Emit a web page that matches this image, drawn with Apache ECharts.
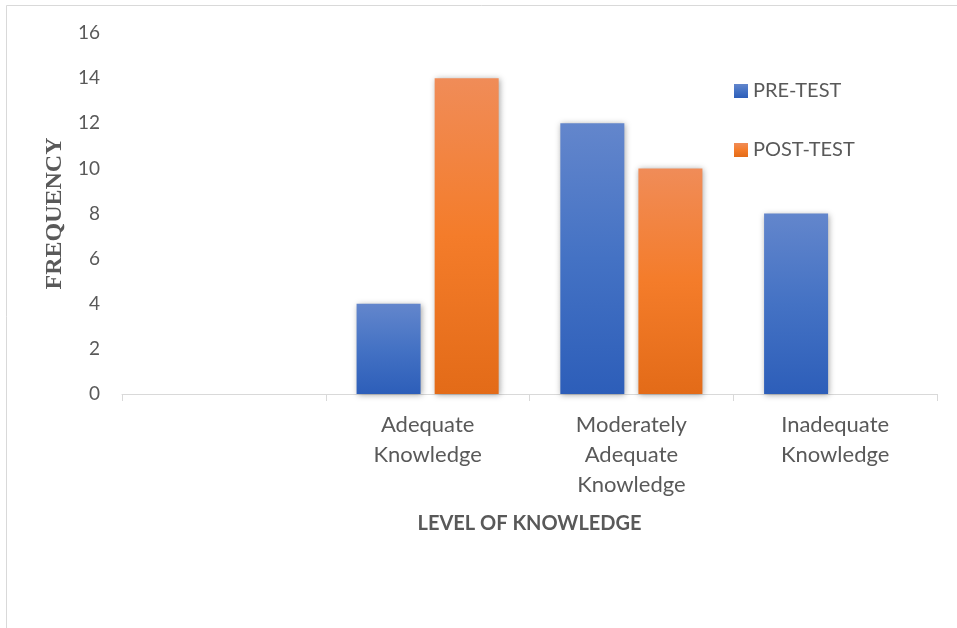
<!DOCTYPE html>
<html>
<head>
<meta charset="utf-8">
<script src="https://cdn.jsdelivr.net/npm/echarts@6/dist/echarts.min.js"></script>
<style>
html,body{margin:0;padding:0;background:#fff;}
#chart{width:957px;height:628px;}
</style>
</head>
<body>
<div id="chart"></div>
<script>
const categories = ["", "Adequate\nKnowledge", "Moderately\nAdequate\nKnowledge", "Inadequate\nKnowledge"];
const preTest = [null, 4, 12, 8];
const postTest = [null, 14, 10, null];
const seriesNames = ["PRE-TEST", "POST-TEST"];

const chart = echarts.init(document.getElementById('chart'), null, {renderer: 'canvas'});

function grad(top, mid, bottom) {
  return new echarts.graphic.LinearGradient(0, 0, 0, 1, [
    {offset: 0, color: top},
    {offset: 0.5, color: mid},
    {offset: 1, color: bottom}
  ]);
}
const blue = grad('#6386cc', '#4472c4', '#2d5eb9');
const orange = grad('#f08c58', '#f47c2a', '#e36b18');

const font = 'Lato, "Open Sans", sans-serif';

chart.setOption({
  animation: false,
  backgroundColor: '#ffffff',
  graphic: [{
    type: 'polyline',
    shape: {points: [[6.5, 628], [6.5, 5.5], [957, 5.5]]},
    style: {stroke: '#d9d9d9', lineWidth: 1, fill: null},
    silent: true
  }],
  legend: {
    orient: 'vertical',
    left: 729,
    top: 76,
    itemWidth: 14,
    itemHeight: 14,
    itemGap: 39,
    icon: 'rect',
    textStyle: {color: '#595959', fontSize: 20, fontFamily: font},
    data: seriesNames
  },
  grid: {left: 122, right: 20, top: 33, bottom: 234, containLabel: false},
  xAxis: {
    type: 'category',
    data: categories,
    name: 'LEVEL OF KNOWLEDGE',
    nameLocation: 'middle',
    nameGap: 120,
    nameTextStyle: {color: '#595959', fontSize: 20, fontWeight: 'bold', fontFamily: font},
    axisLine: {lineStyle: {color: '#d9d9d9', width: 1}},
    axisTick: {show: true, length: 7, lineStyle: {color: '#d9d9d9'}, alignWithLabel: false},
    axisLabel: {color: '#595959', fontSize: 22, fontFamily: font, lineHeight: 30, margin: 16, interval: 0}
  },
  yAxis: {
    type: 'value',
    min: 0,
    max: 16,
    interval: 2,
    name: 'FREQUENCY',
    nameLocation: 'middle',
    nameGap: 54,
    nameRotate: 90,
    nameTextStyle: {color: '#595959', fontSize: 24, fontWeight: 'bold', fontFamily: '"Liberation Serif", "DejaVu Serif", serif'},
    axisLine: {show: false},
    axisTick: {show: false},
    splitLine: {show: false},
    axisLabel: {color: '#595959', fontSize: 19, fontFamily: font, margin: 22}
  },
  series: [
    {
      name: seriesNames[0],
      type: 'bar',
      data: preTest,
      barWidth: 64,
      barGap: '22%',
      itemStyle: {color: blue, shadowColor: 'rgba(0,0,0,0.35)', shadowBlur: 6, shadowOffsetX: 1, shadowOffsetY: 1}
    },
    {
      name: seriesNames[1],
      type: 'bar',
      data: postTest,
      barWidth: 64,
      barGap: '22%',
      itemStyle: {color: orange, shadowColor: 'rgba(0,0,0,0.35)', shadowBlur: 6, shadowOffsetX: 1, shadowOffsetY: 1}
    }
  ]
});
</script>
</body>
</html>
